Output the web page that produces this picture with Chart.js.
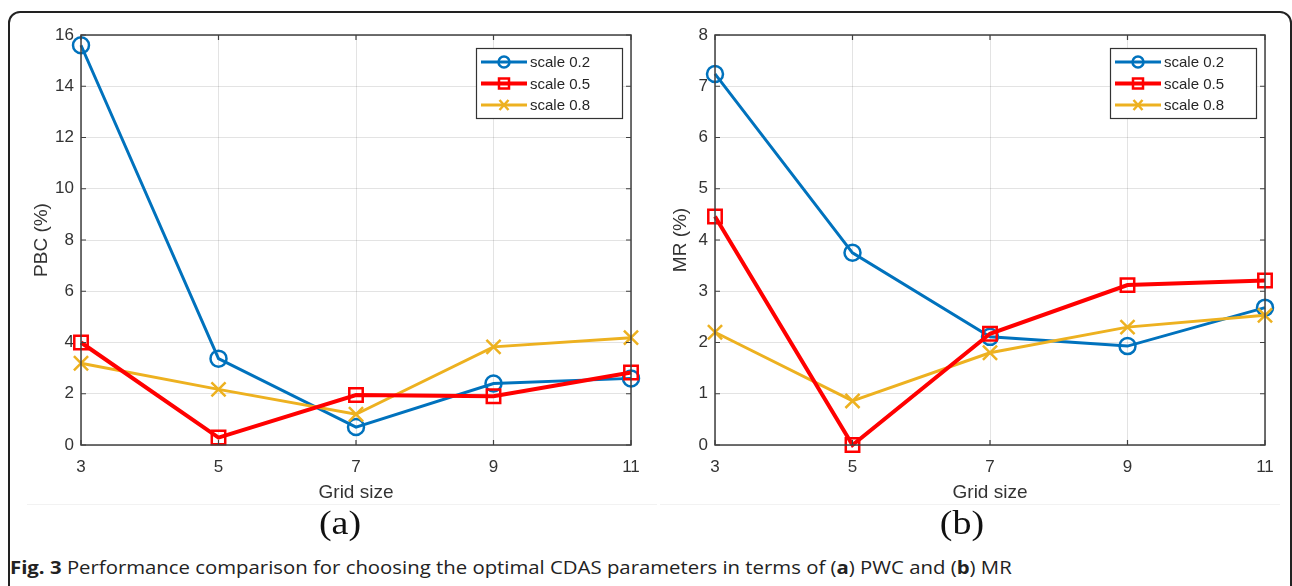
<!DOCTYPE html>
<html>
<head>
<meta charset="utf-8">
<script src="https://cdn.jsdelivr.net/npm/chart.js@4"></script>
<style>
  html, body { margin: 0; padding: 0; background: #fff; }
  body { width: 1292px; height: 586px; position: relative; overflow: hidden; }
  #frame { position: absolute; left: 8px; top: 11px; width: 1280px; height: 640px;
           border: 2px solid #222; border-radius: 12px; }
  .cv { position: absolute; top: 0; }
  .sub { position: absolute; top: 505px; width: 80px; margin-left: -40px; text-align: center;
         font-family: "Liberation Serif", "Times New Roman", serif;
         font-size: 33px; color: #111; transform: scaleX(1.15); }
  .sep { position: absolute; top: 504px; height: 1px; background: #f2f2f2; }
  #caption { position: absolute; left: 10px; top: 555px; font-family: "Open Sans", sans-serif;
             font-size: 18px; color: #222; white-space: nowrap;
             transform: scaleX(1.13); transform-origin: 0 0; }
</style>
</head>
<body>
<div id="frame"></div>
<div class="sep" style="left:27px;width:630px"></div>
<div class="sep" style="left:660px;width:620px"></div>
<div style="position:absolute;left:0;top:0;width:660px;height:510px"><canvas id="chartA" class="cv"></canvas></div>
<div style="position:absolute;left:645px;top:0;width:645px;height:510px"><canvas id="chartB" class="cv"></canvas></div>
<div class="sub" style="left:340px">(a)</div>
<div class="sub" style="left:962px">(b)</div>
<div id="caption"><b>Fig. 3</b> Performance comparison for choosing the optimal CDAS parameters in terms of (<b>a</b>) PWC and (<b>b</b>) MR</div>
<script>
var gridSizes = [3, 5, 7, 9, 11];
var seriesNames = ['scale 0.2', 'scale 0.5', 'scale 0.8'];

// (a) PBC (%)
var pbc02 = [15.6, 3.37, 0.70, 2.40, 2.60];
var pbc05 = [4.0, 0.29, 1.95, 1.90, 2.83];
var pbc08 = [3.19, 2.17, 1.20, 3.83, 4.19];

// (b) MR (%)
var mr02 = [7.24, 3.75, 2.11, 1.93, 2.68];
var mr05 = [4.46, 0.0, 2.17, 3.12, 3.21];
var mr08 = [2.20, 0.86, 1.80, 2.30, 2.53];

var styles = [
  { color: '#0072BD', pointStyle: 'circle', radius: 8, width: 3, order: 3 },
  { color: '#FF0000', pointStyle: 'rect', radius: 9.5, width: 4, order: 1 },
  { color: '#EDB120', pointStyle: 'crossRot', radius: 10, width: 3, order: 2 }
];

function makeSets(lists) {
  return lists.map(function (vals, i) {
    var s = styles[i];
    return {
      label: seriesNames[i],
      data: vals.map(function (v, j) { return { x: gridSizes[j], y: v }; }),
      borderColor: s.color,
      backgroundColor: 'transparent',
      borderWidth: s.width,
      pointStyle: s.pointStyle,
      pointRadius: s.radius,
      pointBorderWidth: 2.5,
      pointBorderColor: s.color,
      pointBackgroundColor: 'rgba(0,0,0,0)',
      tension: 0,
      clip: false,
      order: s.order
    };
  });
}

// box, inner tick marks and MATLAB-like legend
var matlabBox = {
  id: 'matlabBox',
  afterDatasetsDraw: function (chart) {
    var ctx = chart.ctx, a = chart.chartArea;
    var xs = chart.scales.x, ys = chart.scales.y;
    ctx.save();
    ctx.strokeStyle = '#404040';
    ctx.lineWidth = 1.5;
    ctx.strokeRect(a.left, a.top, a.right - a.left, a.bottom - a.top);
    ctx.lineWidth = 1.2;
    xs.ticks.forEach(function (t) {
      var px = xs.getPixelForValue(t.value);
      ctx.beginPath();
      ctx.moveTo(px, a.bottom); ctx.lineTo(px, a.bottom - 5);
      ctx.moveTo(px, a.top); ctx.lineTo(px, a.top + 5);
      ctx.stroke();
    });
    ys.ticks.forEach(function (t) {
      var py = ys.getPixelForValue(t.value);
      ctx.beginPath();
      ctx.moveTo(a.left, py); ctx.lineTo(a.left + 5, py);
      ctx.moveTo(a.right, py); ctx.lineTo(a.right - 5, py);
      ctx.stroke();
    });

    // legend
    var w = 146, h = 70;
    var bx = a.right - 9 - w, by = a.top + 13;
    ctx.fillStyle = '#fff';
    ctx.fillRect(bx, by, w, h);
    ctx.strokeStyle = '#333';
    ctx.lineWidth = 1.2;
    ctx.strokeRect(bx + 0.5, by + 0.5, w, h);
    ctx.font = '15px "Liberation Sans", Arial, sans-serif';
    ctx.textBaseline = 'middle';
    chart.data.datasets.forEach(function (ds, i) {
      var s = styles[i];
      var ly = by + 14 + i * 21.5;
      ctx.strokeStyle = s.color;
      ctx.lineWidth = s.width;
      ctx.beginPath();
      ctx.moveTo(bx + 5, ly); ctx.lineTo(bx + 51, ly);
      ctx.stroke();
      ctx.lineWidth = 2.5;
      var cx = bx + 28;
      ctx.beginPath();
      if (s.pointStyle === 'circle') {
        ctx.arc(cx, ly, 5.5, 0, Math.PI * 2);
      } else if (s.pointStyle === 'rect') {
        ctx.rect(cx - 5, ly - 5, 10, 10);
      } else {
        ctx.moveTo(cx - 4.5, ly - 5); ctx.lineTo(cx + 4.5, ly + 5);
        ctx.moveTo(cx + 4.5, ly - 5); ctx.lineTo(cx - 4.5, ly + 5);
      }
      ctx.stroke();
      ctx.fillStyle = '#262626';
      ctx.fillText(ds.label, bx + 54, ly + 1);
    });
    ctx.restore();
  }
};

function makeChart(id, lists, yMax, yStep, yTitle, yWidth, rightPad, titlePad) {
  var tickFont = { family: '"Liberation Sans", Arial, sans-serif', size: 17 };
  var titleFont = { family: '"Liberation Sans", Arial, sans-serif', size: 19 };
  return new Chart(document.getElementById(id), {
    type: 'line',
    data: { datasets: makeSets(lists) },
    options: {
      responsive: true,
      maintainAspectRatio: false,
      animation: false,
      layout: { padding: { top: 35, right: rightPad, bottom: 0, left: 0 } },
      plugins: { legend: { display: false }, tooltip: { enabled: false } },
      scales: {
        x: {
          type: 'linear', min: 3, max: 11,
          ticks: { stepSize: 2, color: '#333', font: tickFont, padding: 12 },
          grid: { color: 'rgba(0,0,0,0.11)', drawTicks: false },
          border: { display: false },
          title: { display: true, text: 'Grid size', color: '#333', font: titleFont,
                   padding: { top: 0, bottom: 6 } },
          afterFit: function (s) { s.height = 65; }
        },
        y: {
          min: 0, max: yMax,
          ticks: { stepSize: yStep, color: '#333', font: tickFont, padding: 7 },
          grid: { color: 'rgba(0,0,0,0.11)', drawTicks: false },
          border: { display: false },
          title: { display: true, text: yTitle, color: '#333', font: titleFont,
                   padding: { top: titlePad, bottom: 0 } },
          afterFit: function (s) { s.width = yWidth; }
        }
      }
    },
    plugins: [matlabBox]
  });
}

var chartA = makeChart('chartA', [pbc02, pbc05, pbc08], 16, 2, 'PBC (%)', 81, 29, 30);
var chartB = makeChart('chartB', [mr02, mr05, mr08], 8, 1, 'MR (%)', 70, 25, 24);
</script>
</body>
</html>
